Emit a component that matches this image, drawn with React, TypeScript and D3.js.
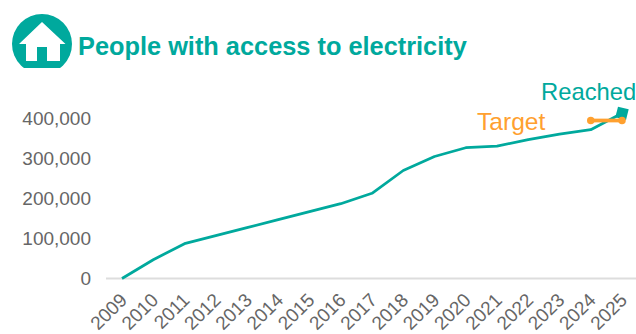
import React from "react";
import * as d3 from "d3";

const years = ["2009","2010","2011","2012","2013","2014","2015","2016","2017","2018","2019","2020","2021","2022","2023","2024","2025"];
const reached = [0,47000,87000,107000,127000,147000,167000,187000,213000,270000,305000,327000,331000,347000,361000,372000,413000];
const targetYears = ["2024","2025"];
const target = [395000,395000];
const yTicks = [0,100000,200000,300000,400000];
const title = "People with access to electricity";
const TEAL = "#00A99D";
const ORANGE = "#FFA02F";
const FONT = "'Liberation Sans', Arial, sans-serif";

export default function App() {
  const x = d3.scalePoint<string>().domain(years).range([122, 622]);
  const y = d3.scaleLinear().domain([0, 400000]).range([278.5, 118.5]);
  const line = d3.line<number>().x((_, i) => x(years[i])!).y(d => y(d));
  const tline = d3.line<number>().x((_, i) => x(targetYears[i])!).y(d => y(d));
  const ex = x("2025")!, ey = y(reached[reached.length - 1]);
  return (
    <svg width={636} height={334} style={{ position: "absolute", left: 0, top: 0, background: "#fff" }} fontFamily={FONT}>
      <defs>
        <clipPath id="ic"><rect x={0} y={0} width={100} height={68} /></clipPath>
      </defs>
      <g clipPath="url(#ic)">
        <circle cx={42} cy={44} r={30} fill={TEAL} />
        <path d="M42 22 L65.5 44 L60 44 L60 61 L47 61 L47 47 L37 47 L37 61 L26 61 L26 44 L19 44 Z" fill="#fff" />
      </g>
      <text x={78} y={55} fontSize={25.35} fontWeight={700} fill={TEAL}>{title}</text>
      <line x1={106} x2={636} y1={y(0)} y2={y(0)} stroke="#DDDDDD" strokeWidth={2} />
      {yTicks.map(t => (
        <text key={t} x={91} y={y(t) + 6.5} textAnchor="end" fontSize={19} fill="#666666">{d3.format(",")(t)}</text>
      ))}
      {years.map(yr => (
        <text key={yr} transform={`translate(${x(yr)! - 2},${293}) rotate(-45)`} textAnchor="end" dominantBaseline="hanging" dy={-2} fontSize={19} fill="#666666">{yr}</text>
      ))}
      <path d={line(reached)!} fill="none" stroke={TEAL} strokeWidth={2.75} strokeLinejoin="round" />
      <rect x={-5.5} y={-5.5} width={11} height={11} fill={TEAL} transform={`translate(${ex},${ey}) rotate(14)`} />
      <path d={tline(target)!} fill="none" stroke={ORANGE} strokeWidth={3.75} />
      {target.map((v, i) => <circle key={i} cx={x(targetYears[i])!} cy={y(v)} r={3.75} fill={ORANGE} />)}
      <text x={541} y={100} fontSize={23.8} fill={TEAL}>Reached</text>
      <text x={477} y={130} fontSize={24.6} fill={ORANGE}>Target</text>
    </svg>
  );
}
